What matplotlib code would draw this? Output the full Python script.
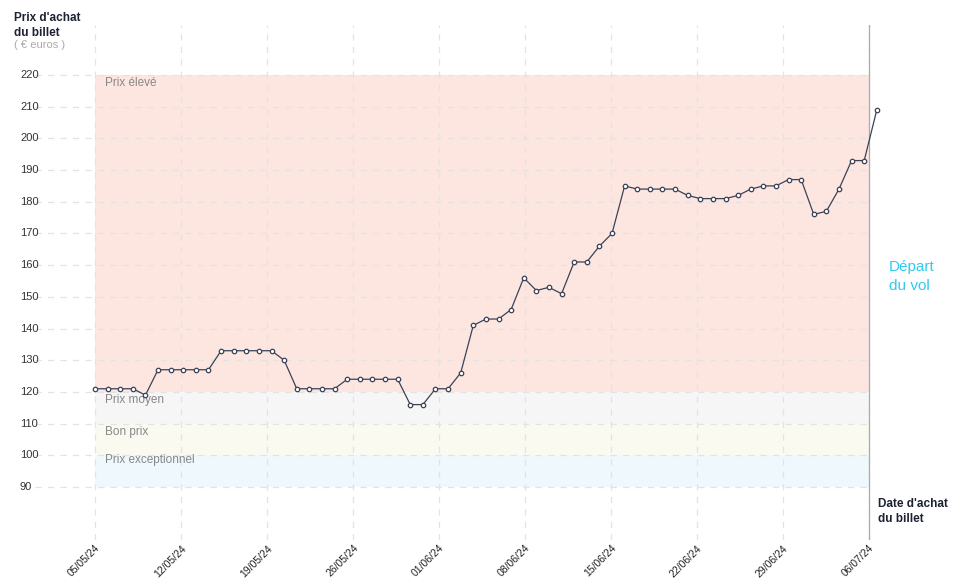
import matplotlib
matplotlib.use("Agg")
import matplotlib.pyplot as plt
import numpy as np

prices = [121,121,121,121,119,127,127,127,127,127,133,133,133,133,133,130,121,121,121,121,
          124,124,124,124,124,116,116,121,121,126,141,143,143,146,156,152,153,151,161,161,
          166,170,185,184,184,184,184,182,181,181,181,182,184,185,185,187,187,176,177,184,
          193,193,209]
tick_labels = ["05/05/24","12/05/24","19/05/24","26/05/24","01/06/24","08/06/24",
               "15/06/24","22/06/24","29/06/24","06/07/24"]
y_ticks = [90,100,110,120,130,140,150,160,170,180,190,200,210,220]
bands = [(120,220,"#fde6e0","Prix élevé"),(110,120,"#f6f6f6","Prix moyen"),
         (100,110,"#fafaf1","Bon prix"),(90,100,"#eff8fc","Prix exceptionnel")]

W,H = 958,585
fig = plt.figure(figsize=(W/100,H/100),dpi=100)
L,R,T,B = 35,900,25,540
ax = fig.add_axes([L/W,1-B/H,(R-L)/W,(B-T)/H])
px = 12.61
xmin = (L-95)/px; xmax=(R-95)/px
pu = 412/130
ax.set_xlim(xmin,xmax)
ax.set_ylim(90-(B-487)/pu, 220+(75-T)/pu)
for s in ax.spines.values(): s.set_visible(False)
xend = (869-95)/px
for lo,hi,c,lab in bands:
    ax.fill_between([0,xend],lo,hi,color=c,lw=0,zorder=0)
    ax.text(0.8,hi-2.5 if lab!="Prix exceptionnel" else hi-1.5,lab,fontsize=8.5,color="#888888",va="center",family="Liberation Sans")
for y in y_ticks:
    ax.plot([xmin,xend],[y,y],ls=(0,(5,5)),color="#e3e3e3",lw=0.9,zorder=1)
    ax.text(xmin+1.3/px*0+ (20-L)/px, y, str(y), fontsize=8, color="#333333", va="center", ha="left", family="Liberation Sans")
tpos = np.linspace(0,xend,len(tick_labels))
ylo,yhi = ax.get_ylim()
for t,lab in zip(tpos,tick_labels):
    ax.plot([t,t],[ylo,yhi],ls=(0,(5,5)),color="#e3e3e3",lw=0.9,zorder=1)
    ax.text(t,ylo-1,lab,rotation=45,ha="right",va="top",fontsize=7.5,color="#222222",
            rotation_mode="anchor",family="Liberation Sans",clip_on=False)
ax.plot([xend,xend],[ylo-0,yhi],color="#aaaaaa",lw=0.9,zorder=2)
ax.plot(range(len(prices)),prices,color="#3a4258",lw=0.9,marker="o",ms=3.2,
        mfc="white",mec="#3a4258",mew=0.9,zorder=3,clip_on=False)
ax.set_xticks([]); ax.set_yticks([])
fig.text(14/W,1-12/H,"Prix d'achat\ndu billet",fontsize=8.5,weight="bold",color="#1d2233",va="top",family="Liberation Sans",linespacing=1.3)
fig.text(14/W,1-40/H,"( € euros )",fontsize=8,color="#aaaaaa",va="top",family="Liberation Sans")
fig.text(878/W,1-498/H,"Date d'achat\ndu billet",fontsize=8.5,weight="bold",color="#1d2233",va="top",family="Liberation Sans",linespacing=1.3)
fig.text(889/W,1-260/H,"Départ\ndu vol",fontsize=11,color="#2ecbf2",va="top",family="Liberation Sans",linespacing=1.5)
fig.savefig("out.png",dpi=100)
